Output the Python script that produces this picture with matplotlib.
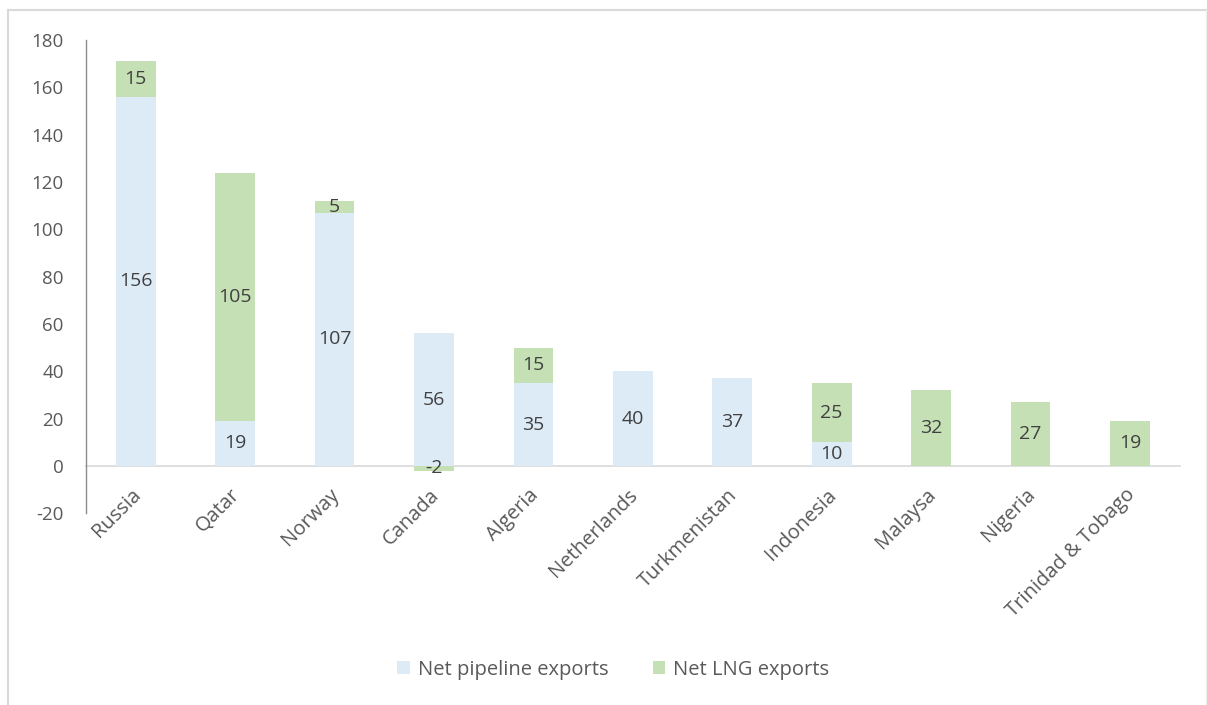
import numpy as np
import matplotlib.pyplot as plt
from matplotlib.transforms import ScaledTranslation
from matplotlib.patches import Patch
from matplotlib.lines import Line2D

plt.rcParams['font.family'] = ['Open Sans', 'DejaVu Sans']
plt.rcParams['axes.unicode_minus'] = False

countries = ["Russia", "Qatar", "Norway", "Canada", "Algeria", "Netherlands",
             "Turkmenistan", "Indonesia", "Malaysa", "Nigeria", "Trinidad & Tobago"]
pipeline = [156, 19, 107, 56, 35, 40, 37, 10, 0, 0, 0]
lng = [15, 105, 5, -2, 15, 0, 0, 25, 32, 27, 19]

c_pipe = "#ddebf7"
c_lng = "#c5e0b4"

fig = plt.figure(figsize=(12.07, 7.05), dpi=100)
ax = fig.add_axes([0.0713, 0.272, 0.906, 0.671])

x = np.arange(len(countries))
pipe = np.array(pipeline)
gas = np.array(lng)
# negative LNG values hang below zero, positive ones stack on the pipeline bar
lng_bottom = np.where(gas >= 0, pipe, 0)
ax.bar(x, pipe, 0.4, color=c_pipe, zorder=2)
ax.bar(x, gas, 0.4, bottom=lng_bottom, color=c_lng, zorder=2)

for i in range(len(x)):
    if pipe[i] != 0:
        ax.text(x[i], pipe[i] / 2, str(pipe[i]), ha='center', va='center',
                fontsize=14, color='#404040', zorder=3)
    if gas[i] != 0:
        ax.text(x[i], lng_bottom[i] + gas[i] / 2, str(gas[i]), ha='center', va='center',
                fontsize=14, color='#404040', zorder=3)

ax.set_xlim(-0.5, len(countries) - 0.5)
ax.set_ylim(-20, 180)
ax.set_yticks(np.arange(-20, 181, 20))
ax.tick_params(axis='y', length=0, pad=16, labelsize=13.5, labelcolor='#595959')
ax.tick_params(axis='x', length=0, pad=0, labelsize=14.5, labelcolor='#595959')

ax.spines['top'].set_visible(False)
ax.spines['right'].set_visible(False)
ax.spines['left'].set_color('#8c8c8c')
ax.spines['left'].set_linewidth(1.0)
ax.spines['bottom'].set_position(('data', 0))
ax.spines['bottom'].set_color('#d9d9d9')
ax.spines['bottom'].set_linewidth(1.2)
ax.spines['bottom'].set_zorder(1)

ax.set_xticks(x)
ax.set_xticklabels(countries, rotation=45, ha='right', va='top', rotation_mode='anchor')
shift = ScaledTranslation(-0.05, -0.19, fig.dpi_scale_trans)
for lab in ax.get_xticklabels():
    lab.set_transform(lab.get_transform() + shift)

handles = [Patch(facecolor=c_pipe, edgecolor='none'), Patch(facecolor=c_lng, edgecolor='none')]
fig.legend(handles, ["Net pipeline exports", "Net LNG exports"], loc='center',
           bbox_to_anchor=(0.508, 0.05), ncol=2, frameon=False, fontsize=14.5,
           labelcolor='#595959', handlelength=0.6, handleheight=0.6,
           handletextpad=0.4, columnspacing=2.2)

# light frame around the chart area
frame = dict(color='#d9d9d9', linewidth=1.5, transform=fig.transFigure)
fig.add_artist(Line2D([8 / 1207, 1206 / 1207], [1 - 10 / 705, 1 - 10 / 705], **frame))
fig.add_artist(Line2D([8 / 1207, 8 / 1207], [0, 1 - 10 / 705], **frame))
fig.add_artist(Line2D([1206 / 1207, 1206 / 1207], [0, 1 - 10 / 705], color='#f0f0f0',
                      linewidth=1, transform=fig.transFigure))

fig.savefig("out.png", dpi=100)
